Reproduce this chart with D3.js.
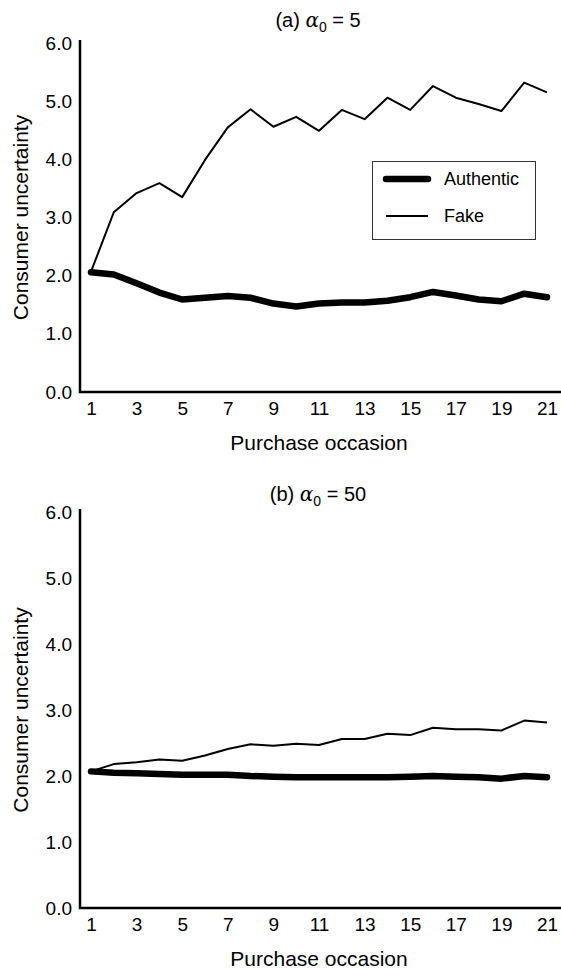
<!DOCTYPE html>
<html>
<head>
<meta charset="utf-8">
<script src="https://cdn.jsdelivr.net/npm/d3@7"></script>
<style>
  body { margin: 0; background: #fff; }
  svg { display: block; font-family: "Liberation Sans", Arial, sans-serif; }
</style>
</head>
<body>
<div id="chart"></div>
<script>
// purchase occasions (x) and tick labels
const occasions = [1, 2, 3, 4, 5, 6, 7, 8, 9, 10, 11, 12, 13, 14, 15, 16, 17, 18, 19, 20, 21];
const xTicks = [1, 3, 5, 7, 9, 11, 13, 15, 17, 19, 21];
const yTicks = [0, 1, 2, 3, 4, 5, 6];

// panel (a) alpha0 = 5
const authenticA = [2.06, 2.02, 1.87, 1.71, 1.59, 1.62, 1.65, 1.62, 1.52, 1.47, 1.52, 1.54, 1.54, 1.57, 1.63, 1.72, 1.66, 1.59, 1.56, 1.69, 1.63];
const fakeA = [2.07, 3.09, 3.42, 3.59, 3.35, 3.99, 4.55, 4.86, 4.56, 4.73, 4.49, 4.85, 4.69, 5.06, 4.85, 5.26, 5.06, 4.95, 4.83, 5.32, 5.15];

// panel (b) alpha0 = 50
const authenticB = [2.07, 2.05, 2.04, 2.03, 2.02, 2.02, 2.02, 2.00, 1.99, 1.98, 1.98, 1.98, 1.98, 1.98, 1.99, 2.00, 1.99, 1.98, 1.96, 2.00, 1.98];
const fakeB = [2.07, 2.18, 2.21, 2.25, 2.23, 2.31, 2.41, 2.48, 2.46, 2.49, 2.47, 2.56, 2.56, 2.64, 2.62, 2.73, 2.71, 2.71, 2.69, 2.84, 2.81];

const width = 561, height = 970;

const svg = d3.select("#chart").append("svg")
    .attr("width", width)
    .attr("height", height);

svg.append("rect").attr("width", width).attr("height", height).attr("fill", "#fff");

const x = d3.scaleLinear().domain([1, 21]).range([91, 547]);

function drawPanel(opts) {
    const y = d3.scaleLinear().domain([0, 6]).range([opts.bottom, opts.top]);
    const g = svg.append("g");

    // title
    const title = g.append("text")
        .attr("x", 318)
        .attr("y", opts.titleY)
        .attr("text-anchor", "middle")
        .style("font-size", "20px");
    title.append("tspan").text(opts.label + " ");
    title.append("tspan").style("font-style", "italic").style("font-family", "DejaVu Serif, serif").text("α");
    title.append("tspan").attr("dy", 5).style("font-size", "14px").text("0");
    title.append("tspan").attr("dy", -5).text(" = " + opts.alpha);

    // y axis labels
    const yAxis = g.append("g")
        .attr("transform", "translate(72,0)")
        .call(d3.axisLeft(y).tickValues(yTicks).tickSize(0).tickPadding(0).tickFormat(d3.format(".1f")));
    yAxis.select(".domain").remove();
    yAxis.selectAll("text").style("font-size", "19px").attr("fill", "#000").attr("font-family", null);

    // x axis labels
    const xAxis = g.append("g")
        .attr("transform", `translate(0,${opts.bottom})`)
        .call(d3.axisBottom(x).tickValues(xTicks).tickSize(0).tickPadding(10));
    xAxis.select(".domain").remove();
    xAxis.selectAll("text").style("font-size", "19px").attr("fill", "#000").attr("font-family", null);

    // axis lines
    g.append("path")
        .attr("d", `M80,${opts.top - 3}V${opts.bottom}H${width}`)
        .attr("fill", "none")
        .attr("stroke", "#000")
        .attr("stroke-width", 2.5);

    // axis titles
    g.append("text")
        .attr("x", 319)
        .attr("y", opts.bottom + 58)
        .attr("text-anchor", "middle")
        .style("font-size", "21px")
        .text("Purchase occasion");

    g.append("text")
        .attr("transform", `translate(28,${(opts.top + opts.bottom) / 2}) rotate(-90)`)
        .attr("text-anchor", "middle")
        .style("font-size", "21px")
        .text("Consumer uncertainty");

    const line = d3.line()
        .x((d, i) => x(occasions[i]))
        .y(d => y(d));

    g.append("path")
        .datum(opts.fake)
        .attr("d", line)
        .attr("fill", "none")
        .attr("stroke", "#000")
        .attr("stroke-width", 2)
        .attr("stroke-linejoin", "round");

    g.append("path")
        .datum(opts.authentic)
        .attr("d", line)
        .attr("fill", "none")
        .attr("stroke", "#000")
        .attr("stroke-width", 6.5)
        .attr("stroke-linejoin", "round")
        .attr("stroke-linecap", "round");

    return g;
}

const panelA = drawPanel({ label: "(a)", alpha: "5", top: 43, bottom: 392, titleY: 27, authentic: authenticA, fake: fakeA });
drawPanel({ label: "(b)", alpha: "50", top: 512, bottom: 908, titleY: 501, authentic: authenticB, fake: fakeB });

// legend for panel (a)
const legend = panelA.append("g");
legend.append("rect")
    .attr("x", 372.5).attr("y", 161.5)
    .attr("width", 163).attr("height", 78)
    .attr("fill", "#fff")
    .attr("stroke", "#333")
    .attr("stroke-width", 1);

const legendItems = [
    { name: "Authentic", w: 6.5, y: 179 },
    { name: "Fake", w: 2, y: 216 }
];
legendItems.forEach(d => {
    legend.append("line")
        .attr("x1", 386).attr("x2", 428)
        .attr("y1", d.y).attr("y2", d.y)
        .attr("stroke", "#000")
        .attr("stroke-width", d.w)
        .attr("stroke-linecap", d.w > 3 ? "round" : "butt");
    legend.append("text")
        .attr("x", 444).attr("y", d.y)
        .attr("dy", "0.35em")
        .style("font-size", "18px")
        .text(d.name);
});
</script>
</body>
</html>
